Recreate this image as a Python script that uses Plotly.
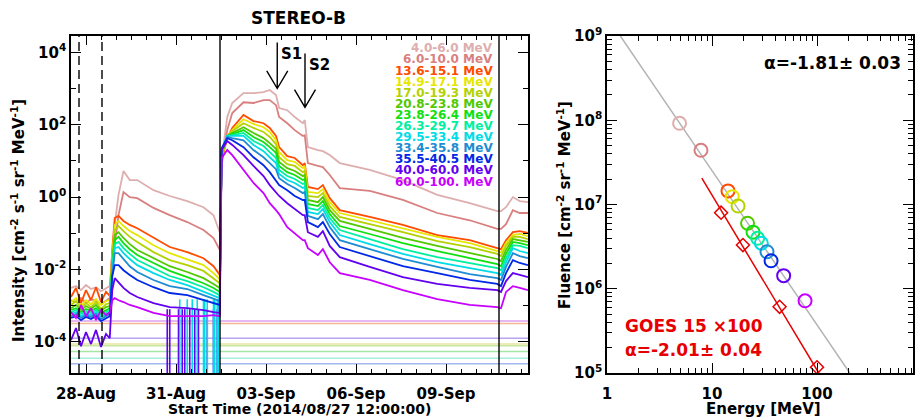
import numpy as np
import pandas as pd
import plotly.graph_objects as go

# ---------------- data: STEREO-B time profiles ----------------
START = pd.Timestamp("2014-08-27 12:00:00")
hours = [0, 4, 8, 12, 16, 20, 24, 28, 31,
         33, 35, 38, 42, 47, 53, 66, 79, 93, 106, 114, 119,
         120.5, 125, 129, 138, 146, 154, 159, 164, 166.5, 173, 179, 185.5, 187, 189.5,
         197.5, 201.5, 207, 215, 239, 265.5, 293, 319, 341, 344, 348, 353.5, 359, 365.6]

channel_labels = ["4.0-6.0 MeV", "6.0-10.0 MeV", "13.6-15.1 MeV", "14.9-17.1 MeV",
                  "17.0-19.3 MeV", "20.8-23.8 MeV", "23.8-26.4 MeV", "26.3-29.7 MeV",
                  "29.5-33.4 MeV", "33.4-35.8 MeV", "35.5-40.5 MeV", "40.0-60.0 MeV",
                  "60.0-100. MeV"]
channel_colors = ["#deaeae", "#d97f7f", "#ff4c00", "#e6e600", "#b4d200", "#52c800",
                  "#10e010", "#00f0a0", "#00dce6", "#1e8cd2", "#0028e6", "#6400f0", "#c800ff"]

# log10 intensity [cm-2 s-1 sr-1 MeV-1]
log_ch1 = [-2.51, -2.46, -2.57, -2.43, -2.54, -2.49, -2.60, -2.51, -2.46,
           -1.60, -0.77, 0.06, 0.72, 0.47, 0.47, 0.19, 0.03, -0.11, -0.28, -0.50, -0.97,
           1.02, 2.21, 2.60, 2.87, 2.87, 2.90, 2.96, 2.82, 2.46, 2.40, 2.21, 2.04, 2.13, 1.38,
           1.30, 1.27, 1.16, 0.94, 0.75, 0.47, 0.06, -0.17, -0.39, -0.39, -0.28, 0.00, -0.11, -0.14]
log_ch2 = [-2.85, -2.90, -2.79, -2.93, -2.82, -2.87, -2.96, -2.85, -2.79,
           -2.15, -1.33, -0.50, 0.14, 0.00, -0.03, -0.30, -0.50, -0.69, -0.91, -1.13, -1.46,
           0.88, 1.85, 2.32, 2.62, 2.60, 2.68, 2.68, 2.54, 2.21, 2.04, 1.85, 1.69, 1.71, 0.94,
           0.86, 0.83, 0.61, 0.25, 0.17, -0.08, -0.44, -0.64, -0.88, -0.88, -0.75, -0.36, -0.44, -0.44]
log_ch3 = [-2.76, -2.51, -2.93, -2.57, -2.85, -2.49, -2.90, -2.62, -2.73,
           -1.46, -0.58, -0.52, -0.66, -0.77, -0.86, -1.13, -1.38, -1.52, -1.69, -1.91, -2.15,
           1.02, 1.63, 1.91, 2.27, 2.10, 2.04, 1.91, 1.69, 1.38, 1.13, 1.08, 0.88, 0.94, 0.28,
           0.22, 0.33, -0.03, -0.36, -0.55, -0.77, -1.05, -1.19, -1.41, -1.44, -1.19, -0.97, -0.94, -0.99]
log_ch4 = [-2.90, -2.79, -3.01, -2.85, -2.96, -2.82, -2.98, -2.87, -2.85,
           -1.60, -0.77, -0.66, -0.80, -0.94, -1.05, -1.33, -1.55, -1.71, -1.88, -2.10, -2.27,
           1.08, 1.66, 1.85, 2.15, 2.02, 1.93, 1.80, 1.57, 1.24, 1.02, 0.97, 0.80, 0.86, 0.14,
           0.11, 0.22, -0.14, -0.44, -0.64, -0.86, -1.10, -1.27, -1.49, -1.52, -1.27, -1.05, -1.02, -1.08]
log_ch5 = [-2.98, -2.87, -3.07, -2.93, -3.04, -2.90, -3.09, -2.96, -2.93,
           -1.69, -0.91, -0.80, -0.94, -1.10, -1.24, -1.52, -1.74, -1.88, -2.04, -2.24, -2.38,
           1.13, 1.69, 1.82, 2.04, 1.91, 1.80, 1.66, 1.46, 1.10, 0.91, 0.86, 0.69, 0.72, 0.03,
           0.00, 0.11, -0.25, -0.55, -0.75, -0.97, -1.22, -1.38, -1.57, -1.63, -1.35, -1.10, -1.10, -1.16]
log_ch6 = [-3.07, -2.98, -3.12, -3.01, -3.09, -2.98, -3.15, -3.04, -3.01,
           -1.80, -1.05, -0.97, -1.13, -1.30, -1.46, -1.69, -1.91, -2.07, -2.24, -2.40, -2.51,
           1.16, 1.69, 1.77, 1.93, 1.77, 1.63, 1.49, 1.33, 0.97, 0.80, 0.72, 0.58, 0.61, -0.08,
           -0.14, 0.00, -0.36, -0.66, -0.88, -1.13, -1.35, -1.55, -1.71, -1.77, -1.46, -1.16, -1.19, -1.24]
log_ch7 = [-3.12, -3.07, -3.18, -3.09, -3.15, -3.07, -3.20, -3.12, -3.07,
           -1.88, -1.19, -1.10, -1.27, -1.44, -1.60, -1.82, -2.04, -2.21, -2.38, -2.51, -2.62,
           1.22, 1.69, 1.74, 1.85, 1.66, 1.52, 1.38, 1.22, 0.86, 0.69, 0.61, 0.47, 0.50, -0.19,
           -0.25, -0.11, -0.47, -0.80, -1.02, -1.27, -1.49, -1.69, -1.85, -1.91, -1.57, -1.24, -1.27, -1.33]
log_ch8 = [-3.18, -3.12, -3.23, -3.15, -3.20, -3.12, -3.26, -3.18, -3.12,
           -1.96, -1.30, -1.24, -1.41, -1.57, -1.74, -1.96, -2.18, -2.32, -2.49, -2.62, -2.71,
           1.24, 1.69, 1.71, 1.77, 1.55, 1.41, 1.24, 1.08, 0.75, 0.58, 0.50, 0.36, 0.39, -0.30,
           -0.36, -0.22, -0.58, -0.91, -1.16, -1.44, -1.66, -1.82, -1.96, -2.02, -1.69, -1.33, -1.35, -1.41]
log_ch9 = [-3.23, -3.18, -3.29, -3.20, -3.26, -3.18, -3.31, -3.23, -3.18,
           -2.04, -1.41, -1.38, -1.55, -1.71, -1.88, -2.10, -2.29, -2.43, -2.60, -2.71, -2.79,
           1.30, 1.69, 1.69, 1.69, 1.44, 1.27, 1.10, 0.94, 0.64, 0.47, 0.39, 0.25, 0.28, -0.41,
           -0.47, -0.33, -0.69, -1.05, -1.30, -1.57, -1.80, -1.96, -2.10, -2.15, -1.80, -1.41, -1.49, -1.55]
log_ch10 = [-3.29, -3.23, -3.34, -3.26, -3.31, -3.23, -3.37, -3.29, -3.23,
            -2.13, -1.55, -1.55, -1.71, -1.91, -2.07, -2.29, -2.46, -2.54, -2.71, -2.82, -2.87,
            1.30, 1.66, 1.63, 1.57, 1.30, 1.10, 0.94, 0.77, 0.52, 0.36, 0.25, 0.11, 0.14, -0.52,
            -0.61, -0.47, -0.83, -1.19, -1.44, -1.71, -1.93, -2.13, -2.24, -2.29, -1.93, -1.55, -1.63, -1.69]
log_ch11 = [-3.34, -3.29, -3.40, -3.31, -3.37, -3.29, -3.43, -3.34, -3.29,
            -2.18, -1.88, -1.88, -2.02, -2.15, -2.29, -2.49, -2.65, -2.71, -2.85, -2.93, -2.98,
            1.35, 1.63, 1.57, 1.38, 1.10, 0.88, 0.69, 0.47, 0.33, 0.19, 0.03, -0.08, -0.08, -0.69,
            -0.83, -0.69, -1.02, -1.38, -1.63, -1.91, -2.10, -2.29, -2.40, -2.46, -2.10, -1.74, -1.82, -1.88]
log_ch12 = [-3.95, -3.62, -4.12, -3.73, -4.06, -3.67, -4.14, -3.78, -3.90,
            -2.57, -2.24, -2.35, -2.51, -2.65, -2.76, -2.93, -3.04, -3.07, -3.12, -3.18, -3.20,
            1.30, 1.55, 1.44, 1.16, 0.86, 0.58, 0.33, 0.14, 0.03, -0.17, -0.33, -0.50, -0.50, -0.97,
            -1.10, -0.94, -1.35, -1.66, -1.93, -2.21, -2.40, -2.51, -2.57, -2.62, -2.32, -2.10, -2.15, -2.21]
log_ch13 = [-3.18, -3.34, -2.98, -3.29, -3.07, -3.40, -3.12, -3.26, -3.18,
            -2.85, -2.79, -2.85, -2.90, -2.98, -3.04, -3.20, -3.29, -3.29, -3.29, -3.26, -3.29,
            1.08, 1.30, 1.16, 0.75, 0.39, 0.11, -0.17, -0.36, -0.47, -0.83, -0.99, -1.19, -1.19, -1.41,
            -1.60, -1.44, -1.80, -2.10, -2.29, -2.57, -2.82, -2.98, -3.04, -3.07, -2.62, -2.46, -2.51, -2.57]
log_channels = [log_ch1, log_ch2, log_ch3, log_ch4, log_ch5, log_ch6, log_ch7,
                log_ch8, log_ch9, log_ch10, log_ch11, log_ch12, log_ch13]

# data drop-outs (counts fall below the axis)
dropout_ch12_hours = [77, 79, 86, 89, 91, 95, 99, 102, 109, 114, 117]
dropout_ch12_top = 8e-4
dropout_ch9_hours = [87, 93, 97, 101, 106, 107, 109, 114, 115, 117, 118]
dropout_ch9_top = 1.5e-3
dropout_floor = 1e-7

# background levels (horizontal lines)
bg_levels = [3.8e-4, 3.2e-4, 1.26e-4, 8.7e-5, 7.8e-5, 5.4e-5, 3.5e-5, 2.5e-5]
bg_colors = ["#dca0f0", "#f4b898", "#b8a4f0", "#e6e6a0", "#c8e6a0", "#a4e6a4", "#a4f0dc", "#a4b8f0"]

dashed_times = ["2014-08-27 18:24", "2014-08-28 12:48"]
solid_times = ["2014-09-01 11:12", "2014-09-10 18:24"]

shock_labels = ["S1", "S2"]
shock_times = ["2014-09-03 09:00", "2014-09-04 07:12"]
shock_tip = [1000.0, 300.0]
shock_len = [46, 54]

# ---------------- data: fluence spectrum ----------------
energy = [4.91, 7.85, 14.2, 15.6, 17.7, 21.8, 24.6, 27.2, 29.5, 33.4, 36.5, 48.1, 76.9]
fluence = [9.2e7, 4.4e7, 1.45e7, 1.24e7, 9.6e6, 6.0e6, 4.7e6, 3.97e6, 3.47e6, 2.75e6, 2.15e6, 1.43e6, 7.2e5]
goes_energy = [12.2, 19.7, 44.0, 100.0]
goes_fluence = [8.0e6, 3.3e6, 6.1e5, 1.17e5]
fit_stereo_E = [1.34, 205.0]
fit_stereo_F = [1e9, 1e5]
fit_goes_E = [8.0, 104.0]
fit_goes_F = [2.05e7, 1e5]

# ---------------- figure ----------------
W, H = 918, 418
FONT = "DejaVu Sans"
RED = "#e60000"
times = START + pd.to_timedelta(hours, unit="h")
t_end = START + pd.Timedelta(hours=365.6)

fig = go.Figure()

for lvl, c in zip(bg_levels, bg_colors):
    fig.add_trace(go.Scatter(x=[START, t_end], y=[lvl, lvl], mode="lines",
                             line=dict(color=c, width=1.5), showlegend=False, hoverinfo="skip"))

for idx, (hrs, top) in [(11, (dropout_ch12_hours, dropout_ch12_top)), (8, (dropout_ch9_hours, dropout_ch9_top))]:
    xs, ys = [], []
    for h in hrs:
        t = START + pd.Timedelta(hours=h)
        xs += [t, t, None]
        ys += [top, dropout_floor, None]
    fig.add_trace(go.Scatter(x=xs, y=ys, mode="lines", line=dict(color=channel_colors[idx], width=1.6),
                             showlegend=False, hoverinfo="skip"))

for vals, c in zip(log_channels, channel_colors):
    fig.add_trace(go.Scatter(x=times, y=10 ** np.array(vals), mode="lines",
                             line=dict(color=c, width=1.8), showlegend=False, hoverinfo="skip"))

# right panel
fig.add_trace(go.Scatter(x=fit_stereo_E, y=fit_stereo_F, mode="lines", xaxis="x2", yaxis="y2",
                         line=dict(color="#b4b4b4", width=1.5), showlegend=False))
fig.add_trace(go.Scatter(x=fit_goes_E, y=fit_goes_F, mode="lines", xaxis="x2", yaxis="y2",
                         line=dict(color=RED, width=1.5), showlegend=False))
fig.add_trace(go.Scatter(x=goes_energy, y=goes_fluence, mode="markers", xaxis="x2", yaxis="y2",
                         marker=dict(symbol="diamond-open", size=10, color=RED, line=dict(width=1.5)),
                         showlegend=False))
fig.add_trace(go.Scatter(x=energy, y=fluence, mode="markers", xaxis="x2", yaxis="y2",
                         marker=dict(symbol="circle-open", size=13, color=channel_colors, line=dict(width=2)),
                         showlegend=False))

shapes = []
for t in dashed_times:
    shapes.append(dict(type="line", xref="x", yref="y domain", x0=t, x1=t, y0=0, y1=1,
                       line=dict(color="black", width=1.4, dash="9px,5px")))
for t in solid_times:
    shapes.append(dict(type="line", xref="x", yref="y domain", x0=t, x1=t, y0=0, y1=1,
                       line=dict(color="black", width=1.4)))
annotations = []
for lab, t, tip, ln in zip(shock_labels, shock_times, shock_tip, shock_len):
    shapes.append(dict(type="path", xref="x", yref="y", xsizemode="pixel", ysizemode="pixel",
                       xanchor=t, yanchor=tip,
                       path=f"M0,0 L0,{ln} M-10.5,17.7 L0,0 L10.5,17.7",
                       line=dict(color="black", width=1.4)))
    annotations.append(dict(x=t, y=np.log10(tip), xref="x", yref="y", text=lab, showarrow=False,
                            xanchor="left", yanchor="middle", xshift=2, yshift=ln - 12,
                            font=dict(family=FONT, size=15, color="black", weight="bold")))


def px(xp):
    return xp / W


def py(yp):
    return 1 - yp / H


for i, (lab, c) in enumerate(zip(channel_labels, channel_colors)):
    annotations.append(dict(x=px(495), y=py(48.3 + 11.1 * i), xref="paper", yref="paper", text=lab,
                            showarrow=False, xanchor="right", yanchor="middle",
                            font=dict(family=FONT, size=12, color=c, weight="bold")))

bold = dict(family=FONT, color="black", weight="bold")
annotations += [
    dict(x=px(298), y=py(18), text="STEREO-B", font=dict(size=17, **bold)),
    dict(x=px(18), y=py(221), textangle=-90,
         text="Intensity [cm<sup>-2</sup> s<sup>-1</sup> sr<sup>-1</sup> MeV<sup>-1</sup>]",
         font=dict(size=15, **bold)),
    dict(x=px(299), y=py(409), text="Start Time (2014/08/27 12:00:00)", font=dict(size=14, **bold)),
    dict(x=px(564), y=py(205), textangle=-90,
         text="Fluence [cm<sup>-2</sup> sr<sup>-1</sup> MeV<sup>-1</sup>]", font=dict(size=15, **bold)),
    dict(x=px(763), y=py(409), text="Energy [MeV]", font=dict(size=15, **bold)),
    dict(x=px(903), y=py(63), xanchor="right", text="α=-1.81± 0.03", font=dict(size=17, **bold)),
    dict(x=px(623), y=py(326), xanchor="left", text="GOES 15 ×100",
         font=dict(family=FONT, size=17, color=RED, weight="bold")),
    dict(x=px(623), y=py(350), xanchor="left", text="α=-2.01± 0.04",
         font=dict(family=FONT, size=17, color=RED, weight="bold")),
]
for a in annotations[-8:]:
    a.setdefault("xref", "paper")
    a.setdefault("yref", "paper")
    a.setdefault("showarrow", False)
    a.setdefault("xanchor", "center")
    a.setdefault("yanchor", "middle")

ydom = [py(373), py(36)]
axis_common = dict(showline=True, linecolor="black", linewidth=1.5, mirror="allticks",
                   ticks="inside", tickcolor="black", tickwidth=1.3, showgrid=False, zeroline=False,
                   automargin=False,
                   tickfont=dict(family=FONT, size=15, color="black", weight="bold"))

minor_E = [m * 10 ** k for k in range(0, 3) for m in range(2, 10) if m * 10 ** k < 820]
minor_F = [m * 10 ** k for k in range(5, 9) for m in range(2, 10)]

fig.update_layout(
    width=W, height=H, margin=dict(l=0, r=0, t=0, b=0, pad=0, autoexpand=False),
    paper_bgcolor="white", plot_bgcolor="white", hovermode=False,
    font=dict(family=FONT, size=15, color="black", weight="bold"),
    xaxis=dict(domain=[px(71), px(528)], type="date", range=[START, t_end], anchor="y",
               tickformat="%d-%b", tick0="2014-08-28", dtick=3 * 86400000, ticklen=9,
               ticklabelstandoff=6,
               minor=dict(dtick=43200000, tick0="2014-08-27 12:00", ticks="inside", ticklen=4,
                          tickcolor="black", tickwidth=1.2),
               **axis_common),
    yaxis=dict(domain=ydom, type="log", range=[-4.86, 4.45], anchor="x",
               tickvals=[1e-4, 1e-2, 1, 1e2, 1e4],
               ticktext=["10<sup>-4</sup>", "10<sup>-2</sup>", "10<sup>0</sup>", "10<sup>2</sup>", "10<sup>4</sup>"],
               ticklen=10,
               minor=dict(tickmode="array", tickvals=[1e-3, 1e-1, 10, 1e3], ticks="inside", ticklen=5,
                          tickcolor="black", tickwidth=1.2),
               **axis_common),
    xaxis2=dict(domain=[px(607), px(913)], type="log", range=[0, 2.914], anchor="y2",
                tickvals=[1, 10, 100], ticktext=["1", "10", "100"], ticklen=10, ticklabelstandoff=6,
                minor=dict(tickmode="array", tickvals=minor_E, ticks="inside", ticklen=5,
                           tickcolor="black", tickwidth=1.2),
                **axis_common),
    yaxis2=dict(domain=ydom, type="log", range=[5, 9], anchor="x2",
                tickvals=[1e5, 1e6, 1e7, 1e8, 1e9],
                ticktext=["10<sup>5</sup>", "10<sup>6</sup>", "10<sup>7</sup>", "10<sup>8</sup>", "10<sup>9</sup>"],
                ticklen=10,
                minor=dict(tickmode="array", tickvals=minor_F, ticks="inside", ticklen=5,
                           tickcolor="black", tickwidth=1.2),
                **axis_common),
    shapes=shapes,
    annotations=annotations,
)

fig.write_html("out.html")
